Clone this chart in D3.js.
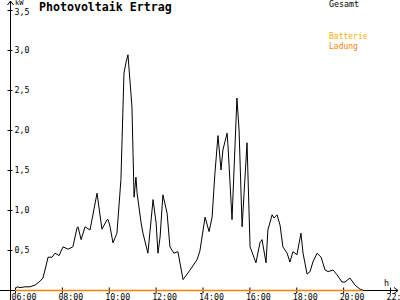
<!DOCTYPE html>
<html>
<head>
<meta charset="utf-8">
<script src="https://cdn.jsdelivr.net/npm/d3@7"></script>
<style>
  body { margin: 0; background: #fff; }
  svg { display: block; font-family: "DejaVu Sans Mono", monospace; }
</style>
</head>
<body>
<div id="chart"></div>
<script>
// hours of day (decimal) and kW
var hours = [6.00, 6.09, 6.21, 6.43, 6.64, 6.85, 7.07, 7.19, 7.28, 7.41, 7.58, 7.71, 7.88,
  8.05, 8.26, 8.47, 8.65, 8.69, 8.82, 8.99, 9.20, 9.50, 9.71, 9.93, 9.97, 10.05, 10.18,
  10.35, 10.52, 10.65, 10.74, 10.82, 10.99, 11.08, 11.16, 11.21, 11.38, 11.46, 11.67,
  11.89, 12.02, 12.10, 12.19, 12.31, 12.49, 12.61, 12.78, 12.95, 13.17, 13.47, 13.77,
  13.89, 14.11, 14.28, 14.41, 14.53, 14.66, 14.79, 14.87, 15.05, 15.09, 15.26, 15.35,
  15.47, 15.56, 15.69, 15.90, 16.03, 16.28, 16.45, 16.54, 16.71, 16.79, 16.97, 17.05,
  17.18, 17.31, 17.43, 17.61, 17.73, 17.86, 18.03, 18.20, 18.29, 18.46, 18.59, 18.71,
  18.89, 19.06, 19.23, 19.36, 19.57, 19.74, 19.95, 20.08, 20.29, 20.51, 20.72, 20.85];
var gesamt = [0.01, 0.04, 0.03, 0.04, 0.04, 0.06, 0.11, 0.15, 0.25, 0.41, 0.41, 0.46, 0.43,
  0.54, 0.51, 0.54, 0.78, 0.79, 0.63, 0.79, 0.75, 1.21, 0.76, 0.88, 0.88, 0.80, 0.59,
  0.71, 1.38, 2.71, 2.85, 2.94, 2.29, 1.16, 1.41, 1.21, 0.84, 0.71, 0.46,
  1.13, 0.84, 0.46, 0.66, 1.19, 0.96, 0.54, 0.46, 0.48, 0.13, 0.25, 0.38,
  0.49, 0.91, 0.73, 0.91, 1.46, 1.93, 1.50, 1.75, 1.96, 1.79, 0.88, 1.54,
  2.40, 2.00, 0.79, 1.84, 0.54, 0.34, 0.59, 0.63, 0.34, 0.75, 0.94, 0.90,
  0.94, 0.81, 0.54, 0.46, 0.35, 0.48, 0.44, 0.71, 0.46, 0.20, 0.23, 0.35,
  0.46, 0.41, 0.25, 0.23, 0.25, 0.19, 0.10, 0.10, 0.15, 0.06, 0.01, 0.00];
// battery charging stays at zero the whole day
var ladungHours = [6, 20.85];
var ladung = [0, 0];

var xTicks = [6, 8, 10, 12, 14, 16, 18, 20, 22];
var xTickLabels = ['06:00', '08:00', '10:00', '12:00', '14:00', '16:00', '18:00', '20:00', '22:00'];
var yTicks = [0.5, 1, 1.5, 2, 2.5, 3, 3.5];
var yTickLabels = ['0,5', '1,0', '1,5', '2,0', '2,5', '3,0', '3,5'];

var width = 400, height = 300;

var svg = d3.select('#chart').append('svg')
  .attr('width', width)
  .attr('height', height);

var x = d3.scaleLinear().domain([6, 22]).range([15, 390]);
var y = d3.scaleLinear().domain([0, 3.5]).range([290, 10]);

// axes lines with arrows
svg.append('line')
  .attr('x1', 0).attr('x2', 398).attr('y1', 290.5).attr('y2', 290.5)
  .attr('stroke', '#000');
svg.append('path')
  .attr('d', 'M394,287.5L398,290.5L394,293.5')
  .attr('fill', 'none').attr('stroke', '#000');
svg.append('line')
  .attr('x1', 10.5).attr('x2', 10.5).attr('y1', 1).attr('y2', 300)
  .attr('stroke', '#000');
svg.append('path')
  .attr('d', 'M7.5,5L10.5,1L13.5,5')
  .attr('fill', 'none').attr('stroke', '#000');

// y axis
var yAxis = svg.append('g')
  .attr('transform', 'translate(10.5,0)')
  .call(d3.axisRight(y).tickValues(yTicks)
    .tickFormat(function (d, i) { return yTickLabels[i]; })
    .tickSize(2).tickPadding(2));
yAxis.select('.domain').remove();
yAxis.selectAll('.tick line').attr('x1', -3).attr('stroke', '#000');
yAxis.selectAll('.tick text')
  .attr('font-family', '"DejaVu Sans Mono", monospace')
  .attr('font-size', 8.3).attr('fill', '#000');
// top label sits a bit higher, under the unit
yAxis.selectAll('.tick text').filter(function (d) { return d === 3.5; })
  .attr('y', 1.5);

// x axis
var xAxis = svg.append('g')
  .attr('transform', 'translate(0,290.5)')
  .call(d3.axisBottom(x).tickValues(xTicks)
    .tickFormat(function (d, i) { return xTickLabels[i]; })
    .tickSize(3).tickPadding(2));
xAxis.select('.domain').remove();
xAxis.selectAll('.tick line').attr('y1', -3).attr('stroke', '#000');
xAxis.selectAll('.tick text')
  .attr('font-family', '"DejaVu Sans Mono", monospace')
  .attr('font-size', 8.3).attr('fill', '#000')
  .attr('text-anchor', 'start')
  .attr('x', -4).attr('y', 9).attr('dy', 0);

// Gesamt line
var line = d3.line()
  .x(function (d) { return x(d[0]); })
  .y(function (d) { return y(d[1]); });

svg.append('path')
  .datum(d3.zip(hours, gesamt))
  .attr('d', line)
  .attr('fill', 'none')
  .attr('stroke', '#000')
  .attr('stroke-width', 1);

svg.append('path')
  .datum(d3.zip(ladungHours, ladung))
  .attr('d', line)
  .attr('transform', 'translate(0,0.5)')
  .attr('fill', 'none')
  .attr('stroke', '#ff8000')
  .attr('stroke-width', 1.5);

// texts
svg.append('text')
  .attr('x', 39).attr('y', 11)
  .attr('font-size', 11.6).attr('font-weight', 'bold')
  .text('Photovoltaik Ertrag');
svg.append('text')
  .attr('x', 15).attr('y', 5)
  .attr('font-size', 7)
  .text('kW');
svg.append('text')
  .attr('x', 384).attr('y', 286)
  .attr('font-size', 8.3)
  .text('h');
svg.append('text')
  .attr('x', 329).attr('y', 7)
  .attr('font-size', 8.3)
  .text('Gesamt');
svg.append('text')
  .attr('x', 329).attr('y', 39)
  .attr('font-size', 8).attr('fill', '#ffb000')
  .text('Batterie');
svg.append('text')
  .attr('x', 329).attr('y', 48.5)
  .attr('font-size', 8).attr('fill', '#ff8000')
  .text('Ladung');
</script>
</body>
</html>
